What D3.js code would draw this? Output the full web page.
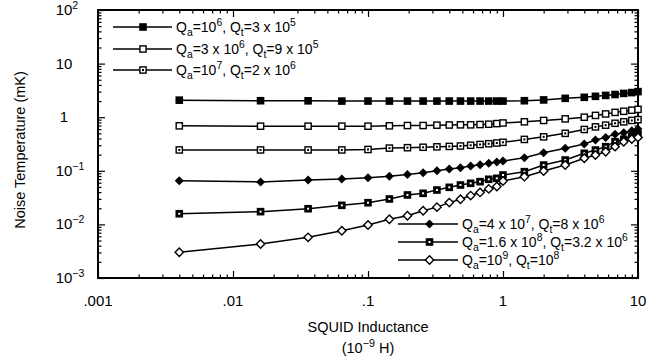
<!DOCTYPE html>
<html><head><meta charset="utf-8">
<script src="https://cdn.jsdelivr.net/npm/d3@7"></script>
<style>
body{margin:0;background:#fff}
svg{display:block}
text{font-family:"Liberation Sans",Arial,Helvetica,sans-serif;fill:#000}
</style>
</head><body>
<svg id="chart" width="657" height="358"></svg>
<script>
// ---------- data ----------
const inductance = [0.004, 0.016, 0.036, 0.064, 0.1, 0.144, 0.196, 0.256, 0.324, 0.4, 0.484, 0.576, 0.676, 0.784, 0.9, 1.0, 1.44, 2.0, 2.89, 4.0, 4.84, 5.76, 6.76, 7.84, 9.0, 10.0];
const tempQa1e6   = [2.08, 2.03, 2.02, 2.0, 2.0, 2.0, 2.0, 2.0, 2.0, 2.0, 2.0, 2.0, 2.0, 2.0, 2.0, 2.0, 2.03, 2.1, 2.25, 2.35, 2.45, 2.55, 2.65, 2.78, 2.88, 3.0];
const tempQa3e6   = [0.69, 0.68, 0.68, 0.68, 0.68, 0.69, 0.70, 0.70, 0.71, 0.715, 0.72, 0.72, 0.73, 0.74, 0.76, 0.78, 0.82, 0.87, 0.93, 1.0, 1.08, 1.15, 1.23, 1.29, 1.35, 1.4];
const tempQa1e7   = [0.245, 0.245, 0.245, 0.245, 0.25, 0.265, 0.27, 0.275, 0.28, 0.285, 0.29, 0.30, 0.31, 0.32, 0.33, 0.34, 0.385, 0.43, 0.50, 0.59, 0.66, 0.71, 0.77, 0.82, 0.87, 0.9];
const tempQa4e7   = [0.065, 0.062, 0.067, 0.070, 0.074, 0.079, 0.085, 0.092, 0.100, 0.108, 0.114, 0.123, 0.130, 0.138, 0.146, 0.152, 0.176, 0.218, 0.263, 0.316, 0.376, 0.42, 0.48, 0.515, 0.56, 0.6];
const tempQa16e8  = [0.0158, 0.0173, 0.0196, 0.0227, 0.0254, 0.0298, 0.0354, 0.038, 0.0438, 0.0492, 0.0543, 0.0585, 0.0627, 0.0694, 0.0724, 0.0835, 0.0963, 0.128, 0.159, 0.212, 0.244, 0.282, 0.349, 0.387, 0.44, 0.48];
const tempQa1e9   = [0.00302, 0.0043, 0.00574, 0.00762, 0.00975, 0.01245, 0.0145, 0.0180, 0.0210, 0.0255, 0.0295, 0.0345, 0.0395, 0.0460, 0.0510, 0.0645, 0.0777, 0.099, 0.128, 0.171, 0.197, 0.227, 0.282, 0.349, 0.39, 0.42];

const seriesValues = [tempQa1e6, tempQa3e6, tempQa1e7, tempQa4e7, tempQa16e8, tempQa1e9];
const seriesMarkers = ["filledSquare", "openSquare", "dotSquare", "filledDiamond", "thickSquare", "openDiamond"];
// legend labels: [text, "sub"|"sup"|""]
const seriesLabels = [
  [["Q",""],["a","sub"],["=10",""],["6","sup"],[", Q",""],["t","sub"],["=3 x 10",""],["5","sup"]],
  [["Q",""],["a","sub"],["=3 x 10",""],["6","sup"],[", Q",""],["t","sub"],["=9 x 10",""],["5","sup"]],
  [["Q",""],["a","sub"],["=10",""],["7","sup"],[", Q",""],["t","sub"],["=2 x 10",""],["6","sup"]],
  [["Q",""],["a","sub"],["=4 x 10",""],["7","sup"],[", Q",""],["t","sub"],["=8 x 10",""],["6","sup"]],
  [["Q",""],["a","sub"],["=1.6 x 10",""],["8","sup"],[", Q",""],["t","sub"],["=3.2 x 10",""],["6","sup"]],
  [["Q",""],["a","sub"],["=10",""],["9","sup"],[", Q",""],["t","sub"],["=10",""],["8","sup"]]
];

const xTickValues = [0.001, 0.01, 0.1, 1, 10];
const xTickLabels = [".001", ".01", ".1", "1", "10"];
const yTickValues = [1e-3, 1e-2, 1e-1, 1, 10, 100];
const yTickLabels = [["10","-3"], ["10","-2"], ["10","-1"], ["1",""], ["10",""], ["10","2"]];
const xTitle = "SQUID Inductance";
const xTitle2 = [["(10",""],["-9","sup"],[" H)",""]];
const yTitle = "Noise Temperature (mK)";

// ---------- layout ----------
const L = 98, R = 638, T = 10, B = 278;
const svg = d3.select("#chart");
const x = d3.scaleLog().domain([0.001, 10]).range([L, R]);
const y = d3.scaleLog().domain([1e-3, 1e2]).range([B, T]);

function minors(lo, hi) {
  const out = [];
  for (let e = lo; e < hi; e++) for (let k = 2; k <= 9; k++) out.push(k * Math.pow(10, e));
  return out;
}
const xMinor = minors(-3, 1), yMinor = minors(-3, 2);

function drawAxis(gen, scale, vals, size, tx, ty) {
  const g = svg.append("g").attr("transform", `translate(${tx},${ty})`)
    .call(gen(scale).tickValues(vals).tickSize(size).tickFormat(""));
  g.select(".domain").remove();
  g.selectAll("line").attr("stroke", "#000").attr("stroke-width", 1.2);
  return g;
}
// major + minor ticks, inward on all four sides
drawAxis(d3.axisBottom, x, xTickValues, -7, 0, B);
drawAxis(d3.axisBottom, x, xMinor, -3.5, 0, B);
drawAxis(d3.axisTop, x, xTickValues, -7, 0, T);
drawAxis(d3.axisTop, x, xMinor, -3.5, 0, T);
drawAxis(d3.axisLeft, y, yTickValues, -7, L, 0);
drawAxis(d3.axisLeft, y, yMinor, -3.5, L, 0);
drawAxis(d3.axisRight, y, yTickValues, -7, R, 0);
drawAxis(d3.axisRight, y, yMinor, -3.5, R, 0);

svg.append("rect").attr("x", L).attr("y", T).attr("width", R - L).attr("height", B - T)
  .attr("fill", "none").attr("stroke", "#000").attr("stroke-width", 2);

// tick labels
svg.append("g").selectAll("text").data(xTickValues).join("text")
  .attr("x", d => x(d)).attr("y", B + 28).attr("text-anchor", "middle")
  .attr("font-size", 15).text((d, i) => xTickLabels[i]);

const yBaseCenter = 64;
svg.append("g").selectAll("text").data(yTickValues).join("text")
  .attr("y", d => y(d) + 5).attr("font-size", 15)
  .each(function(d, i) {
    const t = d3.select(this);
    t.append("tspan").text(yTickLabels[i][0]);
    const w = this.getComputedTextLength();
    t.attr("x", yBaseCenter - w / 2);
    if (yTickLabels[i][1]) t.append("tspan").attr("dy", -6).attr("font-size", 10.5)
      .text(yTickLabels[i][1].replace("-", "\u2212"));
  });

// rich text helper
function rich(sel, parts, fs) {
  let shift = 0;
  parts.forEach(([txt, kind]) => {
    const target = kind === "sub" ? 3.5 : kind === "sup" ? -6 : 0;
    const sp = sel.append("tspan").attr("dy", target - shift).text(txt.replace("-", "\u2212"));
    if (kind) sp.attr("font-size", fs * 0.74);
    shift = target;
  });
}

// titles
svg.append("text").attr("transform", `translate(25,${(T + B) / 2 + 6}) rotate(-90)`)
  .attr("text-anchor", "middle").attr("font-size", 14.5).text(yTitle);
svg.append("text").attr("x", (L + R) / 2).attr("y", 332).attr("text-anchor", "middle")
  .attr("font-size", 14.5).text(xTitle);
const xt2 = svg.append("text").attr("x", (L + R) / 2).attr("y", 353).attr("text-anchor", "middle")
  .attr("font-size", 14.5);
rich(xt2, xTitle2, 14.5);

// markers
function marker(g, type, cx, cy) {
  const s = 3.8;
  if (type === "filledSquare") {
    g.append("rect").attr("x", cx - s).attr("y", cy - s).attr("width", 2 * s).attr("height", 2 * s).attr("fill", "#000");
  } else if (type === "openSquare") {
    g.append("rect").attr("x", cx - s + 0.7).attr("y", cy - s + 0.7).attr("width", 2 * s - 1.4).attr("height", 2 * s - 1.4)
      .attr("fill", "#fff").attr("stroke", "#000").attr("stroke-width", 1.4);
  } else if (type === "dotSquare") {
    g.append("rect").attr("x", cx - s + 0.7).attr("y", cy - s + 0.7).attr("width", 2 * s - 1.4).attr("height", 2 * s - 1.4)
      .attr("fill", "#fff").attr("stroke", "#000").attr("stroke-width", 1.4);
    g.append("rect").attr("x", cx - 1).attr("y", cy - 1).attr("width", 2).attr("height", 2).attr("fill", "#000");
  } else if (type === "thickSquare") {
    g.append("rect").attr("x", cx - s).attr("y", cy - s).attr("width", 2 * s).attr("height", 2 * s).attr("fill", "#000");
    g.append("rect").attr("x", cx - 1).attr("y", cy - 1).attr("width", 2).attr("height", 2).attr("fill", "#fff");
  } else if (type === "filledDiamond") {
    const d = 4.5;
    g.append("path").attr("d", `M${cx},${cy - d}L${cx + d},${cy}L${cx},${cy + d}L${cx - d},${cy}Z`).attr("fill", "#000");
  } else if (type === "openDiamond") {
    const d = 4.2;
    g.append("path").attr("d", `M${cx},${cy - d}L${cx + d},${cy}L${cx},${cy + d}L${cx - d},${cy}Z`)
      .attr("fill", "#fff").attr("stroke", "#000").attr("stroke-width", 1.4);
  }
}

const line = d3.line().x(d => x(d[0])).y(d => y(d[1]));
seriesValues.forEach((vals, si) => {
  const pts = inductance.map((xv, i) => [xv, vals[i]]);
  const g = svg.append("g");
  g.append("path").attr("d", line(pts)).attr("fill", "none").attr("stroke", "#000").attr("stroke-width", 1.5);
  pts.forEach(p => marker(g, seriesMarkers[si], x(p[0]), y(p[1])));
});

// legends
const legendPos = [
  {x0: 113, x1: 172, y: 27}, {x0: 113, x1: 172, y: 49}, {x0: 113, x1: 172, y: 70},
  {x0: 398, x1: 458, y: 224}, {x0: 398, x1: 458, y: 242}, {x0: 398, x1: 458, y: 260}
];
seriesLabels.forEach((lab, si) => {
  const p = legendPos[si];
  const g = svg.append("g");
  g.append("line").attr("x1", p.x0).attr("x2", p.x1).attr("y1", p.y).attr("y2", p.y).attr("stroke", "#000").attr("stroke-width", 1.5);
  marker(g, seriesMarkers[si], (p.x0 + p.x1) / 2 + (si < 3 ? 0.5 : 1.5), p.y);
  const t = g.append("text").attr("x", p.x1 + 4).attr("y", p.y + 5).attr("font-size", 14);
  rich(t, lab, 14);
});
</script>
</body></html>
